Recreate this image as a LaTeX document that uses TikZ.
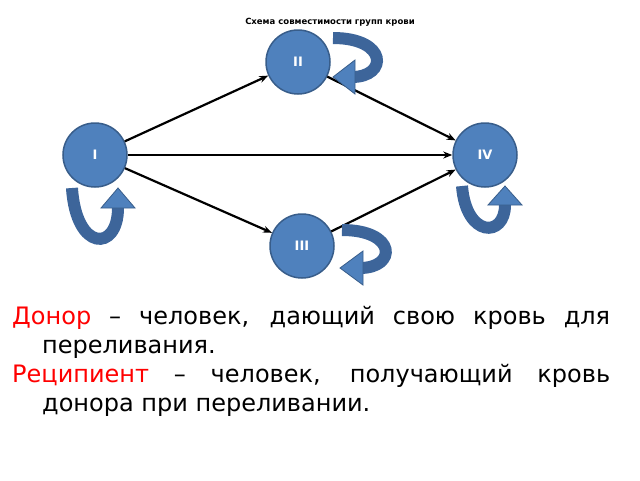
\documentclass[tikz,border=0pt]{standalone}
\usepackage{fontspec}
\usetikzlibrary{arrows.meta}
\setmainfont{DejaVu Sans}
\definecolor{fillb}{HTML}{4F81BD}
\definecolor{edgeb}{HTML}{385D8A}
\definecolor{ribb}{HTML}{3D659A}
\begin{document}
\begin{tikzpicture}[x=1pt,y=-1pt,
  grp/.style={circle,draw=edgeb,line width=1.5pt,fill=fillb,minimum size=64pt,text=white,font=\bfseries\fontsize{13}{13}\selectfont},
  con/.style={line width=2.2pt,-{Stealth[length=9pt,width=7pt]}},
  rib/.style={line width=12pt,draw=ribb},
  head/.style={fill=fillb,draw=edgeb,line width=0.8pt}]
\useasboundingbox (0,0) rectangle (640,480);
\node[font=\bfseries\fontsize{8.5}{9}\selectfont] (t) at (330,22) {Схема совместимости групп крови};
\node[grp] (g2) at (298,62) {II};
\node[grp] (g1) at (95,155) {I};
\node[grp] (g4) at (485,155) {IV};
\node[grp] (g3) at (302,246) {III};
\draw[con] (g1) -- (g2);
\draw[con] (g2) -- (g4);
\draw[con] (g1) -- (g4);
\draw[con] (g1) -- (g3);
\draw[con] (g3) -- (g4);
% loop II
\draw[rib] (333,38) .. controls (388,38) and (388,77) .. (352,77);
\path[head] (355,60) -- (355,94) -- (333,77) -- cycle;
% loop III
\draw[rib] (342,230) .. controls (397,230) and (397,268) .. (360,268);
\path[head] (363,251) -- (363,285) -- (340,268) -- cycle;
% loop I
\draw[rib] (72,188) .. controls (76,252) and (118,252) .. (118,208);
\path[head] (101,208) -- (135,208) -- (118,188) -- cycle;
% loop IV
\draw[rib] (462,186) .. controls (466,238) and (505,238) .. (505,205);
\path[head] (488,205) -- (522,205) -- (505,186) -- cycle;
\node[anchor=north west,inner sep=0pt,text width=598pt,align=justify,font=\fontsize{24}{29}\selectfont] (p) at (12,306)
{\hangindent=30pt\hangafter=1\textcolor{red}{Донор} – человек, дающий свою кровь для переливания.\par
\hangindent=30pt\hangafter=1\textcolor{red}{Реципиент} – человек, получающий кровь донора при переливании.\par};
\end{tikzpicture}
\end{document}
